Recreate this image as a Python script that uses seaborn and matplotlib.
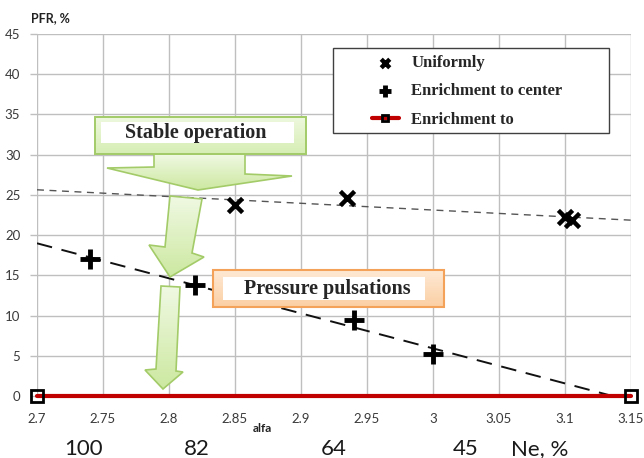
import numpy as np
import matplotlib
matplotlib.use("Agg")
import matplotlib.pyplot as plt
from matplotlib.patches import Polygon, Rectangle
from matplotlib.colors import LinearSegmentedColormap
from matplotlib.font_manager import FontProperties
import seaborn as sns

# PFR (%) against excess-air ratio alfa for three fuel distributions
uniform_alfa = [2.85, 2.935, 3.10, 3.105]
uniform_pfr = [23.75, 24.6, 22.3, 21.9]
center_alfa = [2.74, 2.82, 2.94, 3.0]
center_pfr = [17.0, 13.8, 9.45, 5.2]
edge_alfa = [2.7, 3.15]
edge_pfr = [0.0, 0.0]

series_labels = ["Uniformly", "Enrichment to center", "Enrichment to"]
x_ticks = [2.7, 2.75, 2.8, 2.85, 2.9, 2.95, 3.0, 3.05, 3.1, 3.15]
x_tick_labels = ["2.7", "2.75", "2.8", "2.85", "2.9", "2.95", "3", "3.05", "3.1", "3.15"]
y_ticks = [0, 5, 10, 15, 20, 25, 30, 35, 40, 45]

# Ne (%) values shown under the matching alfa positions
ne_alfa = [2.735, 2.821, 2.925, 3.025]
ne_labels = ["100", "82", "64", "45"]

sns.set_style("white")
plt.rcParams["font.family"] = ["Lato", "DejaVu Sans"]

W, H = 644, 458
fig = plt.figure(figsize=(W / 100, H / 100), dpi=100)
ax = fig.add_axes([37 / W, 62 / H, 594 / W, 362 / H])
ax.set_xlim(2.7, 3.15)
ax.set_ylim(0, 45)

# linear trend lines across the full alfa range
sns.regplot(x=uniform_alfa, y=uniform_pfr, scatter=False, ci=None, truncate=False,
            ax=ax, line_kws=dict(color="#555555", lw=1.0, ls=(0, (5, 4)), zorder=3))
sns.regplot(x=center_alfa, y=center_pfr, scatter=False, ci=None, truncate=False,
            ax=ax, line_kws=dict(color="#111111", lw=1.4, ls=(0, (8, 5)), zorder=3))

sns.scatterplot(x=uniform_alfa, y=uniform_pfr, marker="x", s=105, color="black",
                linewidth=3.2, ax=ax, label=series_labels[0], zorder=5)
sns.scatterplot(x=center_alfa, y=center_pfr, marker="+", s=220, color="black",
                linewidth=3.5, ax=ax, label=series_labels[1], zorder=5)
sns.lineplot(x=edge_alfa, y=edge_pfr, color="#c00000", lw=3, marker="s", markersize=8,
             markerfacecolor="none", markeredgecolor="black", markeredgewidth=2,
             ax=ax, label=series_labels[2], clip_on=False, zorder=6)

ax.set_xlim(2.7, 3.15)
ax.set_ylim(0, 45)
ax.set_xticks(x_ticks, x_tick_labels)
ax.set_yticks(y_ticks)
ax.grid(True, color="#bfbfbf", lw=1)
ax.set_axisbelow(True)
for s in ax.spines.values():
    s.set_visible(False)
ax.tick_params(axis="y", length=5, width=1, color="#bfbfbf", pad=7,
               labelsize=9.5, labelcolor="#3a3a3a", left=True)
ax.tick_params(axis="x", length=0, pad=12, labelsize=9.5, labelcolor="#3a3a3a")
ax.set_xlabel("")
ax.set_ylabel("")

# legend with its own white frame
frame = Rectangle(((333 - 37) / 594, (396 - 133) / 362), 276 / 594, 85 / 362,
                  transform=ax.transAxes, facecolor="white", edgecolor="#404040",
                  lw=1, zorder=7, clip_on=False)
ax.add_patch(frame)
handles, labels = ax.get_legend_handles_labels()
leg = ax.legend(handles, labels, loc="upper left",
                bbox_to_anchor=((372 - 37) / 594, (396 - 55) / 362),
                frameon=False, borderpad=0, borderaxespad=0, handlelength=1.6,
                handletextpad=0.75, labelspacing=0.74, markerscale=0.6,
                prop=FontProperties(family="Liberation Serif", weight="bold", size=12))
leg.set_zorder(8)

# secondary Ne scale below the alfa ticks
secax = ax.secondary_xaxis(location=-0.118)
secax.set_xticks(ne_alfa, ne_labels)
secax.tick_params(length=0, pad=0, labelsize=16, labelcolor="#1a1a1a")
secax.spines["bottom"].set_visible(False)

fig.text(540 / W, 1 - 449 / H, "Ne, %", ha="center", va="center", fontsize=16,
         color="#1a1a1a")
fig.text(262 / W, 1 - 428 / H, "alfa", ha="center", va="center", fontsize=8.5,
         fontweight="bold", color="#222222")
fig.text(31 / W, 1 - 18 / H, "PFR, %", ha="left", va="center", fontsize=9,
         fontweight="bold", color="#222222")

# annotation layer in pixel coordinates
ov = fig.add_axes([0, 0, 1, 1], zorder=10)
ov.set_autoscale_on(False)
ov.set_xlim(0, W)
ov.set_ylim(H, 0)
ov.axis("off")


def shaded(pts, top, bottom, edge, lw=1.2):
    poly = Polygon(pts, closed=True, facecolor="none", edgecolor=edge, lw=lw, zorder=3)
    ov.add_patch(poly)
    xs = [p[0] for p in pts]
    ys = [p[1] for p in pts]
    cmap = LinearSegmentedColormap.from_list("shade", [top, bottom])
    im = ov.imshow(np.linspace(0, 1, 256).reshape(-1, 1), cmap=cmap,
                   extent=[min(xs), max(xs), max(ys), min(ys)], aspect="auto",
                   zorder=2, interpolation="bilinear")
    im.set_clip_path(poly)


def box(x0, y0, x1, y1):
    return [(x0, y0), (x1, y0), (x1, y1), (x0, y1)]


green_edge = "#a3cb68"
arrow_top, arrow_bottom = "#f0f9e3", "#cce8a0"

# "Stable operation" callout and its arrows
shaded(box(95, 117, 306, 154), "#eef8de", "#d6eeb4", green_edge, 1.4)
ov.add_patch(Polygon(box(101, 122, 294, 143), closed=True, facecolor="white",
                     edgecolor="none", zorder=4))
ov.text(196, 133, "Stable operation", ha="center", va="center", fontsize=14.5,
        fontweight="bold", family="Liberation Serif", zorder=5)

shaded([(154, 154), (245, 154), (245, 174), (292, 176), (198, 190), (107, 168),
        (154, 167)], arrow_top, arrow_bottom, green_edge)
shaded([(170, 196), (202, 199), (192, 253), (204, 257), (170, 277), (149, 245),
        (165, 247)], arrow_top, arrow_bottom, green_edge)
shaded([(161, 286), (180, 287), (176, 371), (183, 372), (163, 389), (145, 370),
        (156, 369)], arrow_top, arrow_bottom, green_edge)

# "Pressure pulsations" callout
shaded(box(213, 270, 444, 307), "#fee9d5", "#fbcfa3", "#f4a25a", 1.5)
ov.add_patch(Polygon(box(223, 277, 425, 300), closed=True, facecolor="white",
                     edgecolor="none", zorder=4))
ov.text(327, 289, "Pressure pulsations", ha="center", va="center", fontsize=14.5,
        fontweight="bold", family="Liberation Serif", zorder=5)

fig.savefig("out.png", dpi=100)
